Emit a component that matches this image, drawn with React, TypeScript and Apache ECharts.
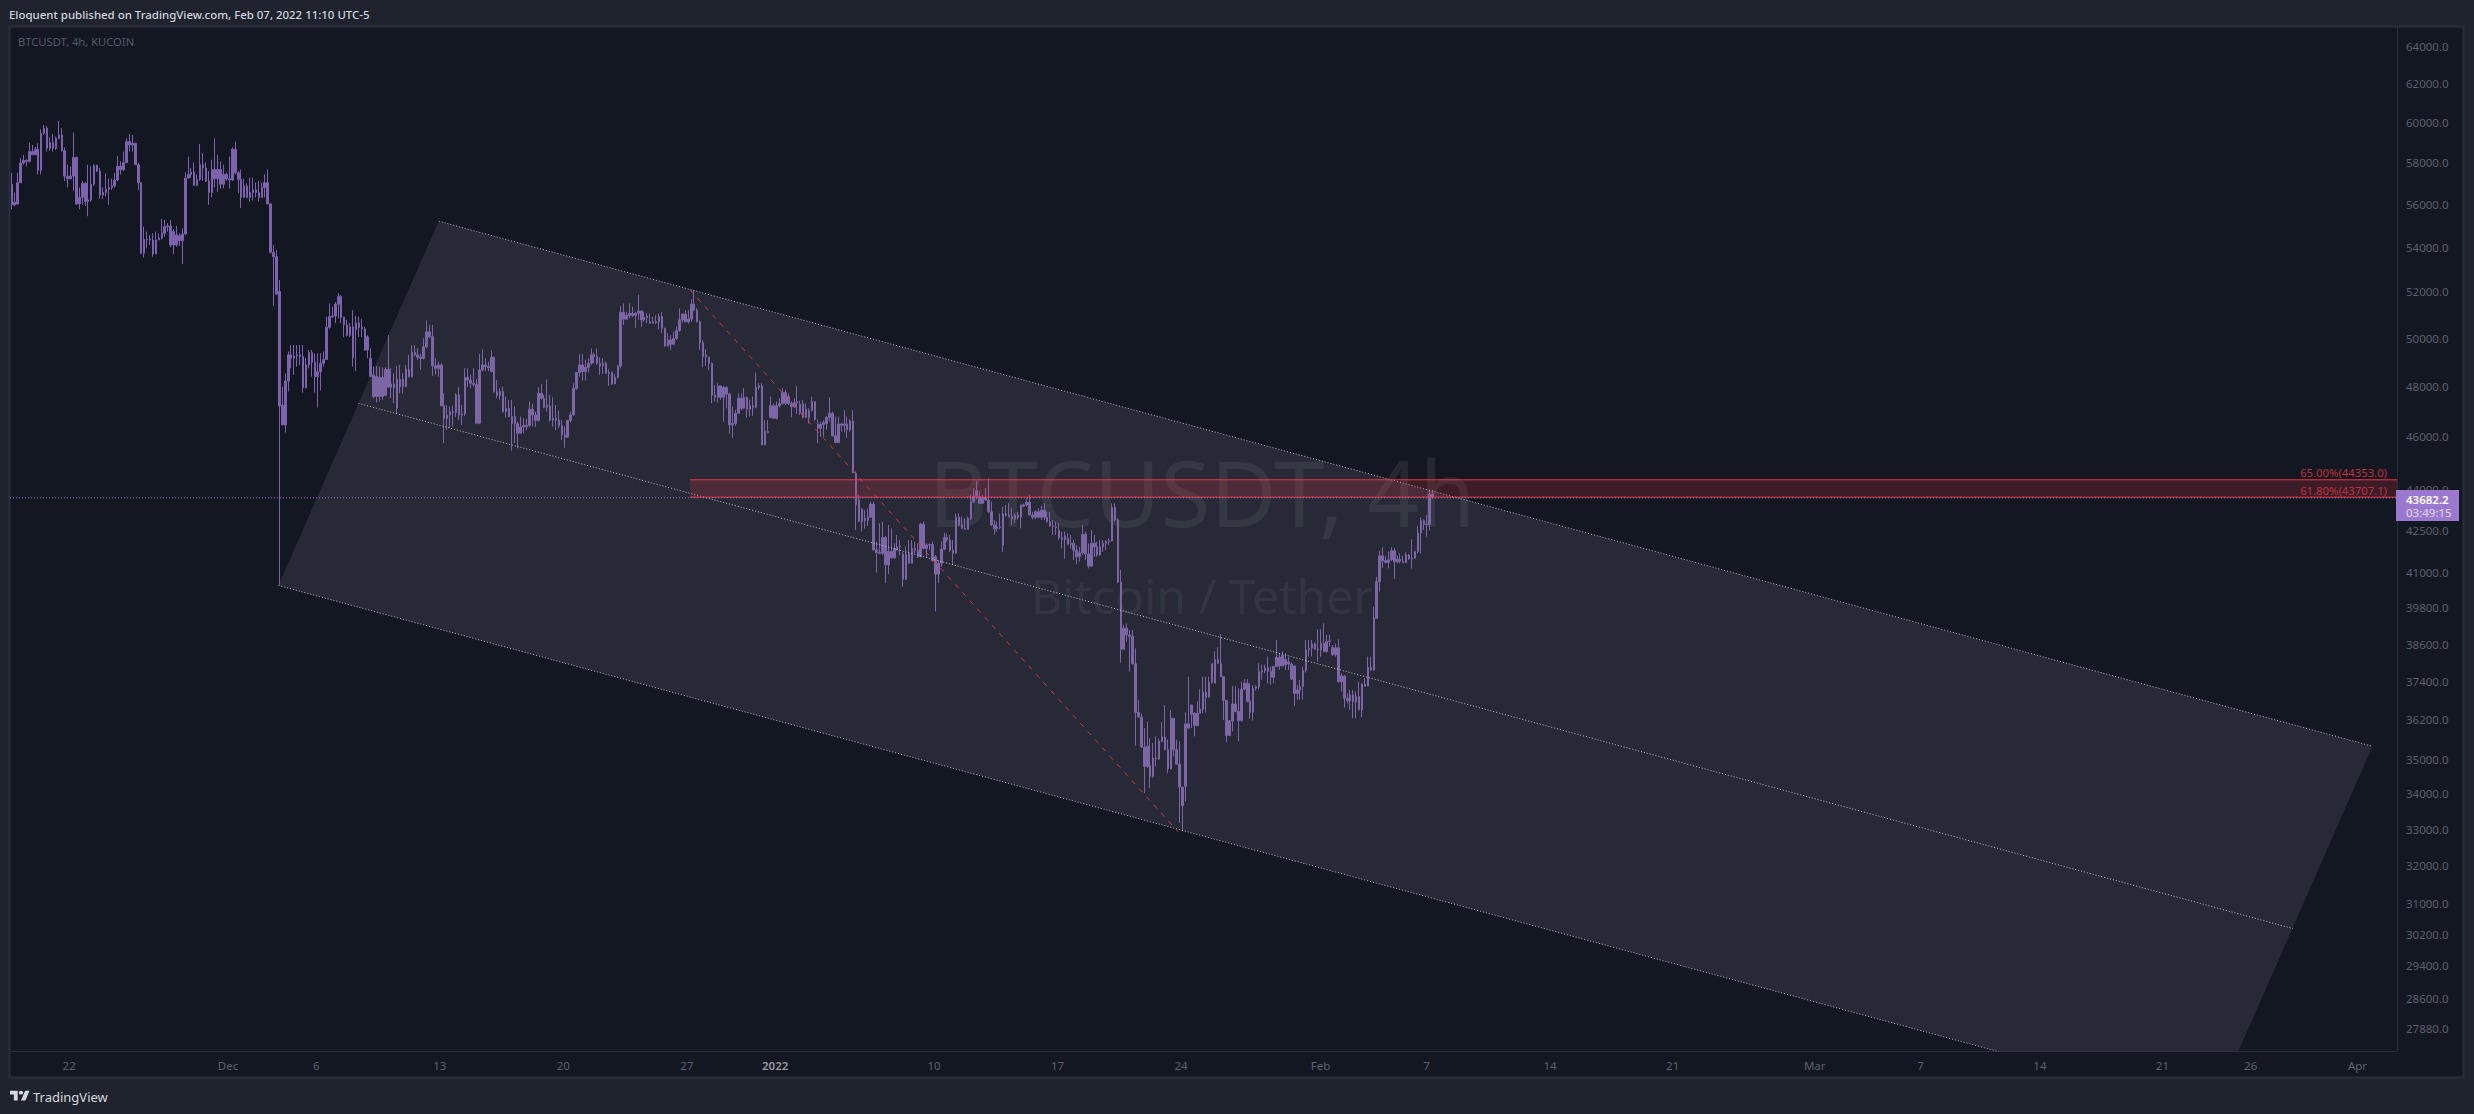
import React, { useEffect, useRef } from "react";
import * as echarts from "echarts";

// Candles, 4h apart. In order.
const firstBarDay = -12.25; // days after 1 Dec 2021
const barsPerDay = 6;

const opens = [
56955,55970,56015,57030,57985,58110,58065,58550,58390,58665,
57635,59462,59713,58715,58995,58715,59212,59378,58600,57350,
57220,57350,58260,56015,56325,57000,56130,56200,56955,57860,
57590,56435,56560,56715,56795,56875,57160,57825,57665,58000,
59046,58880,58963,57905,57030,53721,54355,54327,54327,53690,
54340,54420,54638,54947,54980,54098,54560,54295,54610,54610,
57255,57430,57540,56905,57190,57905,57745,57110,56560,57665,
57220,57665,56955,57430,57220,57160,58665,57510,57190,56325,
56875,56325,56560,56685,56560,56325,56795,57030,56015,53770,
53570,
52010,47250,46460,48220,49300,49160,49250,49300,49230,47950,
48880,49400,48990,48400,48600,48950,49110,50460,50920,50950,
51460,51790,50890,50560,50120,50480,50370,50650,50460,50390,
49500,49160,48460,47590,48370,47590,47640,48700,47970,48100,
48290,47990,48290,47990,48700,48400,49400,49300,49200,49150,
49640,50270,50060,48840,48740,48880,47220,46710,46850,46990,
46950,47660,46850,46900,48370,48260,48130,48080,46530,48670,
48880,48810,48610,49200,47790,47630,47790,46990,47120,46790,
46510,46510,46140,46380,46440,46440,47080,46850,46640,47720,
47520,47150,47220,46650,46720,46650,46430,46070,45980,
46640,46860,47920,48570,48880,48610,48780,48950,49300,49230,
48950,48840,48950,48540,48570,48100,48370,48840,51100,50810,
50970,51060,50970,51060,51160,50780,50880,50700,50640,50700,
50700,50920,50420,49670,49920,49740,49990,50320,50780,51030,
50700,50810,51460,51200,50700,49810,49220,49200,48950,47650,
47560,48020,47560,47960,47690,46460,46520,46920,47520,47120,
47560,47080,47220,47160,47960,48020,45680,46200,46760,47220,
46720,47220,47320,47750,47320,47320,47190,47340,47290,46760,
47080,46760,47030,47390,46490,46330,46480,46520,46760,46920,
46040,45780,46500,46450,46500,46270,
46620,44600,43600,42810,42930,42850,42970,43450,41800,41710,
41680,42240,41270,41740,41520,41850,41910,41650,40770,41650,
41330,41850,41790,41560,42720,41850,41970,41990,41560,40950,
41330,41830,42240,42150,41790,41680,42970,42690,42570,42530,
42930,43540,43730,43730,43480,43700,43600,43170,42690,42550,
42620,41970,43090,43050,42990,42900,43050,42970,43420,43420,
43520,43050,42970,43170,42970,43230,42970,42810,42650,42630,
42480,42240,42170,42210,42000,42030,41790,41560,41700,42350,
41650,41230,42030,41910,41620,41910,42030,42090,42120,43330,
42870,
40680,38430,39120,38900,38850,37960,36430,36290,35380,34800,
34820,34510,35050,35020,35550,35680,35300,34730,36250,35300,
34870,34200,34220,36080,36370,36400,36030,36400,36530,37060,
36900,37370,37340,38090,37980,37550,36800,35730,36170,36690,
36460,36180,37150,37340,36770,36430,37180,37230,37710,37730,
37830,37720,37530,37870,38170,37890,38100,
38020,37950,37890,37020,37130,37240,37740,38410,38460,38600,
38430,38410,38620,38360,38680,38480,38250,38480,37390,37570,
36870,36790,36970,36760,36920,36510,37310,37250,37840,37760,
39450,40690,41590,41420,41360,41450,41770,41390,41470,41400,41350,
41620,41480,41510,41740,42400,42840,42720,42700,43820,
];

const highs = [
57510,56560,57510,58225,58390,58175,58995,58880,58795,58963,
59660,59882,59830,59260,59430,59295,60085,59713,58765,57905,
57825,59510,58310,56795,57110,57060,57905,57825,57920,57905,
57745,56795,57480,57220,57220,57510,58340,58065,58550,59212,
59430,59378,58995,57985,57040,54947,54715,54560,54638,54715,
54638,55305,55260,55105,55260,54825,54980,54638,54870,57540,
58310,57745,58015,57430,58930,58470,58015,57590,58145,59212,
58390,58065,57905,57510,58310,58765,59046,57590,57665,57220,
57000,57270,57270,57030,57110,57030,57430,57665,56060,54098,
53870,
52523,47990,48540,49440,49710,49710,49710,49710,49710,49160,
49500,49500,49360,49360,49360,49440,50920,51490,51350,51550,
51930,51860,50920,50780,50640,51200,50950,50920,50810,50480,
50130,49570,48810,48840,48810,48780,48780,50130,48740,48540,
48840,48880,48540,48880,49300,49710,49710,49570,49340,49990,
50750,50560,50560,49160,49020,48950,47720,47250,47190,47220,
47720,47970,47250,48740,48740,48470,48740,48290,49340,49530,
49160,49020,49480,49220,48260,47930,48000,47590,47460,47460,
47190,46590,46790,46720,46700,47390,47300,46990,47970,48100,
47660,48290,47660,47560,47250,47030,46650,46400,46650,
46990,48130,48570,49330,49330,49090,49160,49570,49390,49570,
49200,49160,49020,48700,48600,48510,48880,51370,51490,51130,
51490,51350,51130,51860,51200,51130,51060,51060,50920,50980,
51060,51120,50440,50200,50130,50270,50490,51280,51060,51200,
51200,51670,52080,51280,50750,49920,49530,49220,48980,48060,
48130,48020,48020,48000,47750,47190,47050,47720,47720,47930,
47590,47460,47590,48570,48130,48130,46650,46650,47590,47320,
47390,47520,47930,47860,47720,47390,47520,48020,47420,47460,
47320,47120,47590,47390,46680,46590,46650,46820,47560,46990,
46790,46790,46520,47050,46790,46680,
47050,44670,43790,43300,43230,43300,43540,43540,42090,42750,
42810,42290,42690,42570,42030,42330,42150,41730,41910,42150,
42150,42090,42030,42770,42810,42030,42030,42090,41620,41440,
42090,42410,42390,42330,42150,43110,43110,42990,42930,42990,
43790,44040,44320,43950,43790,44040,44410,43540,42870,42810,
43110,43360,43420,43480,43300,43110,43170,43420,43470,43660,
43790,43170,43230,43300,43380,43480,43170,43170,42870,42810,
42770,42450,42450,42390,42330,42150,41970,41910,42690,42450,
42030,42510,42330,42090,42150,42150,42150,42210,43480,43480,
42930,
41095,39230,39280,39060,39060,38460,36820,36390,35950,36150,
35640,35500,35700,35640,36130,36660,35600,36510,36250,35600,
35550,34200,36430,37550,36660,36440,36770,37150,37550,37550,
37550,37960,38360,38490,38930,37570,36800,36200,37250,37250,
37180,37390,37470,37470,37340,37280,37280,37980,37930,37930,
38190,37870,37870,38730,38300,38360,38300,
38190,38000,37890,37290,37440,37870,38730,38730,38730,38650,
39080,39080,39280,38900,38900,38570,38620,38750,37650,37600,
37020,37130,37130,37080,37390,37340,37500,38190,38190,39840,
40860,41770,41890,41590,41740,41890,41860,41590,41680,41600,41710,
41650,42170,41770,42650,42960,42900,43050,43975,43975,
];

const lows = [
55755,55910,55970,57030,57905,57825,58015,58390,58390,57430,
57430,59378,58550,58600,58550,58633,59160,58550,57110,56795,
57190,56640,55970,55755,55970,55910,55435,56125,56875,57540,
56250,56250,56370,55970,56685,56795,57110,57430,57590,57985,
58550,58550,57905,56685,53700,53530,53950,54100,53570,53950,
54327,54355,54480,54715,53990,53690,54020,54050,53240,54560,
57220,57270,56875,56875,57110,57110,57060,55970,56325,56795,
56590,56715,56750,57110,56750,57110,57430,56530,55820,56325,
56280,56125,56170,56325,56125,56325,56325,56015,53721,51380,
51880,
40580,46460,46160,47790,48740,48470,48810,48880,47750,47920,
48740,48400,47750,47150,47830,48810,49090,50400,50850,50640,
50850,50640,50040,50080,50050,48810,48620,50050,50050,49470,
49160,48400,47520,47350,47390,47460,47610,47940,47520,47320,
46920,47720,47720,48150,48360,48370,49250,49090,48690,49110,
49570,49990,48430,48470,48400,47190,45750,46260,46330,46390,
46780,46650,46460,46820,47970,47930,47990,46490,46490,48610,
48620,48620,48570,47750,47520,47460,46950,46760,46760,45460,
45750,45550,46110,46140,46250,46370,46400,46380,46590,47460,
47120,46990,46590,46390,46260,46330,45870,45570,45950,
46550,46820,47860,48400,48240,48240,48570,48880,48950,48880,
48470,48510,48510,48020,48060,48100,48320,48740,50560,50810,
50850,50890,50440,50780,50490,50700,50640,50610,50640,50600,
50370,50200,49640,49640,49500,49710,49920,50270,50670,50670,
50610,50700,51170,50670,49500,48780,48840,48670,47320,47390,
47350,47460,46590,47120,46110,45950,46430,46920,47050,47080,
46750,46790,46820,47120,47860,45680,45680,46130,46720,46720,
46680,47160,47250,47250,47250,46760,47120,46890,46850,46720,
46720,46520,46990,46630,45750,46000,46000,46260,46590,46000,
45740,45770,46200,46160,45950,46200,
44600,42510,42810,42450,42560,42650,43020,41770,41000,41650,
41620,40640,40950,41490,41490,41770,41620,40520,40750,41330,
41620,41680,41510,41540,41820,41540,41790,41390,39680,40640,
41210,41790,42090,41730,41270,41680,42650,42530,42510,42530,
42870,43480,43640,43450,43480,43580,43130,42650,42330,42450,
42530,41730,42990,42970,42690,42750,42890,42570,43330,43360,
43050,42890,42900,42930,42870,42870,42770,42630,42330,42330,
42170,41850,41490,41970,41850,41440,41300,41390,41620,41440,
41150,41210,41560,41560,41590,41730,41790,41970,42090,42810,
40640,
38000,38410,38680,37710,37930,35420,36270,35350,34030,34760,
34170,34470,34800,35000,35520,35280,34600,34720,35100,34850,
33180,32950,33790,35920,35950,35700,36000,36390,36410,36430,
36900,37330,37330,37960,37530,36200,35520,35700,35850,36430,
35550,36150,37130,36740,36230,36180,37110,37150,37450,37660,
37330,37290,37340,37850,37760,37890,37760,
37760,37440,36630,36820,36820,36820,37680,38190,38190,38410,
38030,38190,38330,38320,38515,38220,38190,37360,37080,36580,
36710,36510,36250,36250,36490,36280,37230,37250,37740,37740,
39430,40350,41170,41330,41150,41410,40780,41330,41330,41350,41410,
41450,41140,41480,41680,41680,42510,42270,42490,43660,
];

const closes = [
55970,56095,57030,57985,58110,58065,58550,58390,58665,57635,
59462,59713,58715,58995,58715,59212,59378,58600,57350,57220,
57350,58260,56015,56325,57000,56130,56200,56955,57860,57590,
56435,56560,56715,56795,56875,57160,57825,57665,58000,59046,
58880,58963,57905,57030,53721,54355,54327,54380,53690,54340,
54420,54638,54947,54980,54098,54715,54098,54530,54295,57255,
57430,57540,56905,57190,57905,57745,57110,56560,57665,57220,
57665,56955,57430,57220,57160,58665,57510,57190,56325,56875,
56325,56560,56685,56560,56325,56795,57030,56015,53770,53570,
51900,
47210,46460,48220,49300,49160,49250,49300,49230,47950,48880,
49400,48990,48400,48600,48950,49110,50460,50920,50950,51460,
51790,50890,50560,50120,50480,49190,50650,50460,50390,49500,
50060,48400,47590,48400,47590,48370,48700,47970,48100,47940,
47120,48290,47990,48700,48400,49400,49300,49200,49150,49640,
50270,50060,48840,48740,48880,47220,46710,46850,46990,46950,
47660,46850,46900,48370,48260,48130,48080,46530,48670,48880,
48810,48760,49200,47790,47630,47790,46990,47120,46790,46510,
46790,46140,46380,46440,46400,47080,46850,46640,47720,47520,
47150,47250,46650,46720,46650,46430,46070,45980,46640,
46860,47920,48570,48880,48610,48780,48950,49300,49230,48950,
48840,48950,48540,48570,48100,48370,48840,51100,50810,50970,
51060,50970,51060,51160,50780,50880,50950,50640,50700,50660,
50920,50420,49670,49920,49740,49990,50320,50780,51030,50700,
50810,51460,51200,50700,49810,49220,49300,48950,47650,47560,
48020,47560,47960,47690,46460,46520,46920,47520,47120,47560,
47080,47220,47160,47960,48020,45680,46200,46160,47220,46720,
47220,47320,47750,47320,47590,47190,47340,47390,46920,47290,
46760,47030,47390,46680,46330,46480,46550,46760,46920,46040,
45780,46500,46450,46500,46270,46620,
44620,43420,42810,43260,42850,42970,43450,41800,41710,41680,
42240,41270,41740,41520,41850,41910,41940,40770,41650,41330,
41850,41790,41560,42720,41850,41970,41990,41420,40950,41330,
41830,42240,42150,41790,41680,42970,42690,42570,42530,42930,
43540,43730,43950,43480,43700,43600,43170,42690,42550,42620,
42600,43090,43050,42990,42900,43050,42970,43420,43380,43520,
43050,42970,43170,42970,43230,42970,42810,42650,42630,42600,
42240,42170,42290,42000,42030,41790,41560,41700,42350,41650,
41230,42030,41910,41620,41910,42030,42090,42120,43330,42870,
40680,
38430,39120,38900,38850,37960,36430,36290,35380,34800,35400,
34510,35050,35020,35550,35680,35300,34730,36250,35300,34870,
34200,33670,36080,35950,36660,36030,36400,36530,37060,36900,
37370,37960,38090,37980,37550,36800,35730,36170,36690,36460,
36180,37150,37340,36770,36430,37180,37230,37710,37730,37830,
37720,37530,37870,38170,37890,38240,37930,
37950,37470,37020,37130,37240,37740,38410,38460,38600,38430,
38410,38620,38360,38680,38700,38250,38480,37390,37570,36870,
36790,36970,36760,36920,36510,37310,37250,37840,37760,39450,
40690,41590,41420,41360,41450,41770,41390,41470,41400,41350,41620,
41480,41510,41740,42400,42840,42720,42700,43820,43682.2,
];

// Axis ticks
const priceTicks = [64000,62000,60000,58000,56000,54000,52000,50000,48000,46000,44000,42500,41000,39800,38600,37400,36200,35000,34000,33000,32000,31000,30200,29400,28600,27880];
const dayTicks = [-9,0,5,12,19,26,31,40,47,54,61.9,67.9,74.9,81.85,89.9,95.9,102.66,109.6,114.6,120.65];
const dayLabels = ["22","Dec","6","13","20","27","2022","10","17","24","Feb","7","14","21","Mar","7","14","21","26","Apr"];

// Drawings, in days after 1 Dec 2021 and prices
const channelDays = [11.94, 121.5, 112.45, 2.856];
const channelPrices = [55200, 35400, 26030, 40560];
const midlineDays = [7.39, 117.0];
const midlinePrices = [47320, 30340];
const fibDays = [26.18, 53.83];
const fibPrices = [52080, 32930];
const zoneStartDay = 26.18;
const zonePrices = [44353.0, 43707.1];
const lastPrice = 43682.2;

const DAY_MIN = -12.35;
const DAY_MAX = 122.89;
const PRICE_MIN = 27355;
const PRICE_MAX = 65059;

const UI_FONT = '"Noto Sans", sans-serif';
const OUTER = "#1f232e";
const PANEL = "#131722";
const EDGE = "#2a2e39";
const TICK = "#5d606b";
const CANDLE = "#7d62ae";
const RED = "#f23645";
const DOT = "rgba(215,216,222,0.85)";

echarts.graphic.registerShape(
  "tvLogo",
  echarts.graphic.extendPath("M14 22H7V11H0V4h14zM28 22h-8l7.5-18h8zM24 7.5a4 3.5 0 1 1-8 0a4 3.5 0 1 1 8 0z", {})
);

function label(text: string, x: number, y: number, fill: string, font: string, align = "left", z = 20) {
  return { type: "text", x, y, z, silent: true, style: { text, fill, font, textAlign: align, textVerticalAlign: "middle" } };
}

function straightLine(days: number[], prices: number[], color: string, type: any, width = 1, z = 6) {
  return {
    type: "line",
    z,
    silent: true,
    symbol: "none",
    data: days.map((d, i) => [d, prices[i]]),
    lineStyle: { color, type, width },
  };
}

function buildOption() {
  const candles = closes.map((c, i) => [firstBarDay + i / barsPerDay, opens[i], c, lows[i], highs[i]]);
  return {
    animation: false,
    backgroundColor: OUTER,
    grid: { left: 10, right: 77, top: 27, bottom: 63, containLabel: false },
    xAxis: {
      type: "value",
      min: DAY_MIN,
      max: DAY_MAX,
      splitLine: { show: false },
      axisTick: { show: false },
      axisLine: { show: true, onZero: false, lineStyle: { color: EDGE } },
      axisLabel: {
        customValues: dayTicks,
        color: TICK,
        fontFamily: UI_FONT,
        fontSize: 11.5,
        margin: 8,
        hideOverlap: false,
        formatter: (v: number) => {
          const t = dayLabels[dayTicks.indexOf(v)] ?? "";
          return t === "2022" ? `{y|${t}}` : t;
        },
        rich: { y: { color: "#9598a1", fontWeight: 600, fontSize: 11.5, fontFamily: UI_FONT } },
      },
    },
    yAxis: {
      type: "log",
      position: "right",
      min: PRICE_MIN,
      max: PRICE_MAX,
      splitLine: { show: false },
      axisTick: { show: false },
      axisLine: { show: true, onZero: false, lineStyle: { color: EDGE } },
      axisLabel: {
        customValues: priceTicks,
        color: TICK,
        fontFamily: UI_FONT,
        fontSize: 11.5,
        margin: 9,
        hideOverlap: false,
        formatter: (v: number) => Number(v).toFixed(1),
      },
    },
    graphic: [
      { type: "rect", z: -10, silent: true, shape: { x: 9.5, y: 26.5, width: 2454, height: 1051 }, style: { fill: PANEL, stroke: EDGE, lineWidth: 2 } },
      label("BTCUSDT, 4h", 1202, 492, "rgba(255,255,255,0.075)", `91px ${UI_FONT}`, "center", -5),
      label("Bitcoin / Tether", 1202, 595, "rgba(255,255,255,0.075)", `48px ${UI_FONT}`, "center", -5),
      label("Eloquent published on TradingView.com, Feb 07, 2022 11:10 UTC-5", 9, 14, "#d1d4dc", `500 11.45px ${UI_FONT}`),
      label("BTCUSDT, 4h, KUCOIN", 18, 41, "#565a66", `11.2px ${UI_FONT}`),
      label("65.00%(44353.0)", 2387, 472.7, "#c4303e", `11.3px ${UI_FONT}`, "right"),
      label("61.80%(43707.1)", 2387, 490, "#c4303e", `11.3px ${UI_FONT}`, "right"),
      { type: "rect", z: 19, silent: true, shape: { x: 2396, y: 490, width: 63, height: 31 }, style: { fill: "#9a78cf" } },
      label("43682.2", 2406, 499, "#ffffff", `600 11.5px ${UI_FONT}`),
      label("03:49:15", 2406, 512.5, "#e4daf4", `11.5px ${UI_FONT}`),
      { type: "tvLogo", x: 10, y: 1088.5, scaleX: 0.55, scaleY: 0.55, z: 20, silent: true, style: { fill: "#d6d8dd" } },
      label("TradingView", 33, 1097, "#d6d8dd", `13px ${UI_FONT}`),
    ],
    series: [
      {
        type: "candlestick",
        z: 2,
        silent: true,
        barWidth: 2,
        data: candles,
        encode: { x: 0, y: [1, 2, 3, 4] },
        itemStyle: { color: CANDLE, color0: CANDLE, borderColor: CANDLE, borderColor0: CANDLE, borderWidth: 1 },
      },
      {
        type: "custom",
        z: 4,
        silent: true,
        clip: true,
        data: [[channelDays[0], channelPrices[0]]],
        encode: { x: 0, y: 1 },
        renderItem: (_p: any, api: any) => ({
          type: "polygon",
          shape: { points: channelDays.map((d, i) => api.coord([d, channelPrices[i]])) },
          style: { fill: "rgba(122,118,135,0.2)" },
        }),
      },
      straightLine([channelDays[0], channelDays[1]], [channelPrices[0], channelPrices[1]], DOT, [1, 2]),
      straightLine([channelDays[3], channelDays[2]], [channelPrices[3], channelPrices[2]], DOT, [1, 2]),
      straightLine(midlineDays, midlinePrices, DOT, [1, 2]),
      straightLine(fibDays, fibPrices, "rgba(242,54,69,0.85)", [5, 6], 1),
      {
        type: "custom",
        z: 7,
        silent: true,
        clip: true,
        data: [[zoneStartDay, zonePrices[0]]],
        encode: { x: 0, y: 1 },
        renderItem: (_p: any, api: any) => ({
          type: "polygon",
          shape: {
            points: [
              api.coord([zoneStartDay, zonePrices[0]]),
              api.coord([DAY_MAX, zonePrices[0]]),
              api.coord([DAY_MAX, zonePrices[1]]),
              api.coord([zoneStartDay, zonePrices[1]]),
            ],
          },
          style: { fill: "rgba(242,54,69,0.18)" },
        }),
      },
      straightLine([zoneStartDay, DAY_MAX], [zonePrices[0], zonePrices[0]], RED, "solid", 1, 8),
      straightLine([zoneStartDay, DAY_MAX], [zonePrices[1], zonePrices[1]], RED, "solid", 1, 8),
      straightLine([DAY_MIN, DAY_MAX], [lastPrice, lastPrice], "#9a78cf", [1, 2], 1, 9),
    ],
  };
}

export default function App() {
  const ref = useRef<HTMLDivElement>(null);
  useEffect(() => {
    document.body.style.margin = "0";
    document.body.style.background = OUTER;
    const chart = echarts.init(ref.current!, undefined, { renderer: "svg" });
    chart.setOption(buildOption() as any);
    return () => chart.dispose();
  }, []);
  return <div ref={ref} style={{ position: "absolute", left: 0, top: 0, width: 2474, height: 1114 }} />;
}
